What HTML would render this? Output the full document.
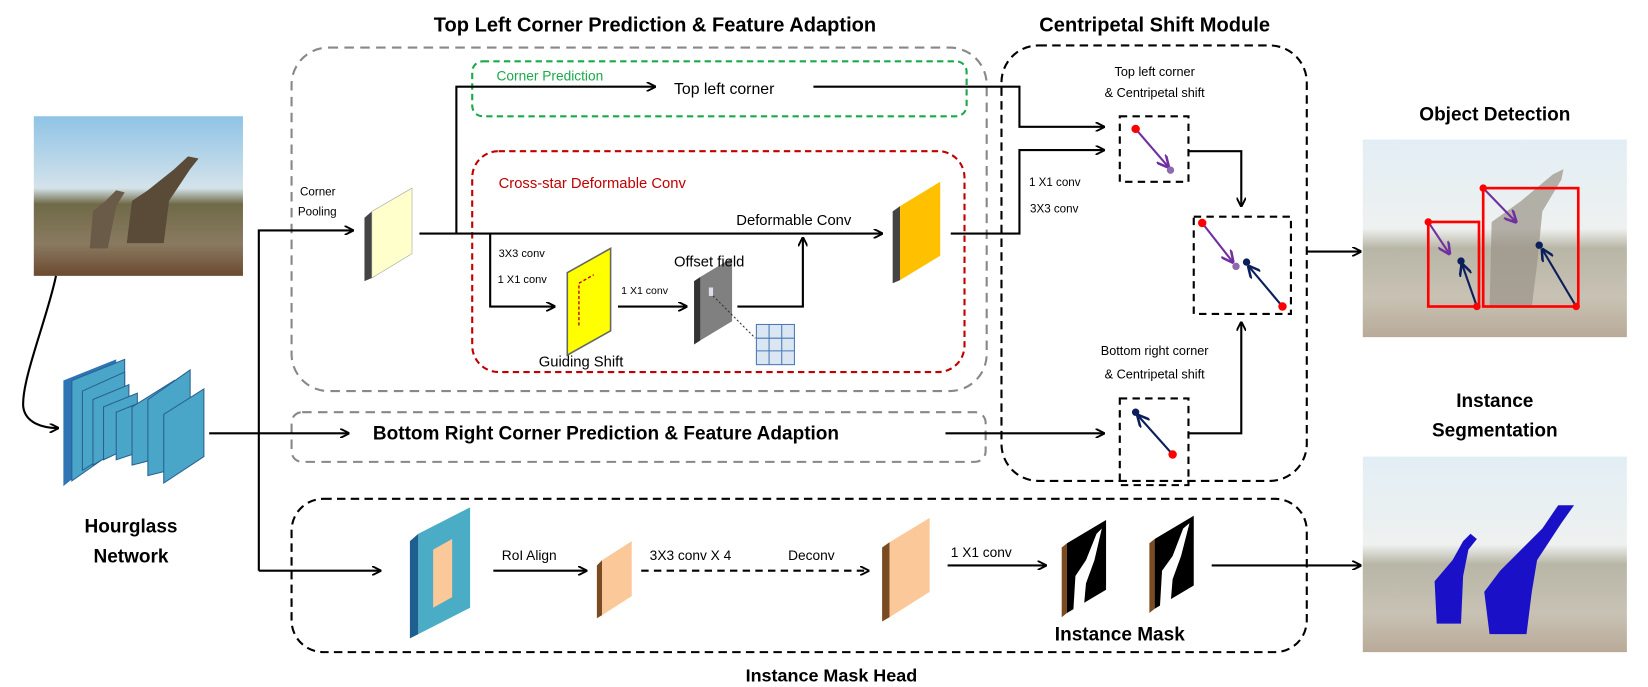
<!DOCTYPE html>
<html><head><meta charset="utf-8"><style>
html,body{margin:0;padding:0;background:#fff;}
svg{display:block;font-family:"Liberation Sans",sans-serif;}
.b{font-weight:bold;}
</style></head><body>
<svg width="1648" height="687" viewBox="0 0 1560 650" preserveAspectRatio="none" xmlns="http://www.w3.org/2000/svg">
<defs>
<marker id="a" viewBox="0 0 10 10" refX="9" refY="5" markerWidth="9" markerHeight="9" orient="auto-start-reverse" markerUnits="userSpaceOnUse"><path d="M0,0 L10,5 L0,10" fill="none" stroke="#000" stroke-width="2"/></marker>
<marker id="ap" viewBox="0 0 10 10" refX="9" refY="5" markerWidth="12" markerHeight="12" orient="auto" markerUnits="userSpaceOnUse"><path d="M0,0 L10,5 L0,10" fill="none" stroke="#7030a0" stroke-width="2"/></marker>
<marker id="an" viewBox="0 0 10 10" refX="9" refY="5" markerWidth="12" markerHeight="12" orient="auto" markerUnits="userSpaceOnUse"><path d="M0,0 L10,5 L0,10" fill="none" stroke="#0b1f5c" stroke-width="2"/></marker>
<linearGradient id="sky" x1="0" y1="0" x2="0" y2="1"><stop offset="0" stop-color="#8fc3e6"/><stop offset="0.45" stop-color="#d4e3ea"/><stop offset="0.55" stop-color="#6f6a48"/><stop offset="0.8" stop-color="#8a7a60"/><stop offset="1" stop-color="#6b4a30"/></linearGradient>
<linearGradient id="sky2" x1="0" y1="0" x2="0" y2="1"><stop offset="0" stop-color="#e2eef5"/><stop offset="0.45" stop-color="#eef1f0"/><stop offset="0.55" stop-color="#b8b6a6"/><stop offset="0.8" stop-color="#c8c2b4"/><stop offset="1" stop-color="#b9aa98"/></linearGradient>
</defs>

<text x="620" y="30" font-size="19" class="b" text-anchor="middle">Top Left Corner Prediction &amp; Feature Adaption</text>
<text x="1093" y="30" font-size="19" class="b" text-anchor="middle">Centripetal Shift Module</text>

<rect x="276" y="45" width="658" height="325" rx="35" fill="none" stroke="#888" stroke-width="2" stroke-dasharray="9,6"/>
<rect x="447" y="58" width="468" height="52" rx="10" fill="none" stroke="#1aaa4a" stroke-width="2" stroke-dasharray="6,4"/>
<text x="470" y="76" font-size="13" fill="#1aaa4a">Corner Prediction</text>
<rect x="447" y="143" width="466" height="209" rx="25" fill="none" stroke="#c00000" stroke-width="2" stroke-dasharray="6,4"/>
<text x="472" y="178" font-size="14" fill="#c00000">Cross-star Deformable Conv</text>

<text x="284" y="185" font-size="11">Corner</text>
<text x="282" y="204" font-size="11">Pooling</text>
<polyline points="245,540 245,218 334,218" fill="none" stroke="#000" stroke-width="2" marker-end="url(#a)"/>
<polygon points="345,206 352,200 352,263 345,266" fill="#444"/>
<polygon points="352,200 390,178 390,240 352,263" fill="#ffffcc" stroke="#999" stroke-width="0.5"/>

<line x1="397" y1="221" x2="835" y2="221" stroke="#000" stroke-width="2" marker-end="url(#a)"/>
<polyline points="432,221 432,82 620,82" fill="none" stroke="#000" stroke-width="2" marker-end="url(#a)"/>
<text x="638" y="89" font-size="15">Top left corner</text>
<polyline points="770,82 965,82 965,120 1045,120" fill="none" stroke="#000" stroke-width="2" marker-end="url(#a)"/>
<text x="697" y="213" font-size="14">Deformable Conv</text>
<polygon points="845,200 852,195 852,265 845,268" fill="#444"/>
<polygon points="852,195 890,172 890,242 852,265" fill="#ffc000"/>
<polyline points="900,221 965,221 965,142 1045,142" fill="none" stroke="#000" stroke-width="2" marker-end="url(#a)"/>
<text x="974" y="176" font-size="11">1 X1 conv</text>
<text x="975" y="201" font-size="11">3X3 conv</text>

<polyline points="464,221 464,290 525,290" fill="none" stroke="#000" stroke-width="2" marker-end="url(#a)"/>
<text x="472" y="243" font-size="10.5">3X3 conv</text>
<text x="471" y="268" font-size="10.5">1 X1 conv</text>
<polygon points="537,258 578,235 578,313 537,336" fill="#ffff00" stroke="#666" stroke-width="1.5"/>
<polyline points="548,308 548,268 562,260" fill="none" stroke="#c00000" stroke-width="1.3" stroke-dasharray="3,2"/>
<text x="510" y="347" font-size="14">Guiding Shift</text>
<line x1="585" y1="290" x2="650" y2="290" stroke="#000" stroke-width="2" marker-end="url(#a)"/>
<text x="588" y="278" font-size="10">1 X1 conv</text>
<polygon points="657,266 663,262 663,322 657,326" fill="#333"/>
<polygon points="663,262 693,244 693,304 663,322" fill="#808080"/>
<rect x="671" y="272" width="4" height="8" fill="#dde"/>
<text x="638" y="252" font-size="14">Offset field</text>
<polyline points="698,290 760,290 760,225" fill="none" stroke="#000" stroke-width="2" marker-end="url(#a)"/>
<line x1="675" y1="280" x2="715" y2="320" stroke="#333" stroke-width="1" stroke-dasharray="2,2"/>
<g stroke="#4a78b8" stroke-width="1" fill="#dbe6f3"><rect x="716" y="307" width="36" height="38"/><line x1="728" y1="307" x2="728" y2="345"/><line x1="740" y1="307" x2="740" y2="345"/><line x1="716" y1="320" x2="752" y2="320"/><line x1="716" y1="332" x2="752" y2="332"/></g>

<rect x="276" y="390" width="657" height="47" rx="10" fill="none" stroke="#888" stroke-width="2" stroke-dasharray="9,6"/>
<text x="353" y="416" font-size="18" class="b">Bottom Right  Corner Prediction &amp; Feature Adaption</text>
<line x1="198" y1="410" x2="330" y2="410" stroke="#000" stroke-width="2" marker-end="url(#a)"/>
<line x1="895" y1="410" x2="1045" y2="410" stroke="#000" stroke-width="2" marker-end="url(#a)"/>

<rect x="948" y="43" width="289" height="412" rx="35" fill="none" stroke="#000" stroke-width="2" stroke-dasharray="8,5"/>
<text x="1093" y="72" font-size="12" text-anchor="middle">Top left corner</text>
<text x="1093" y="92" font-size="12" text-anchor="middle">&amp; Centripetal shift</text>
<rect x="1060" y="110" width="65" height="62" fill="none" stroke="#000" stroke-width="2" stroke-dasharray="7,5"/>
<line x1="1075" y1="122" x2="1106" y2="158" stroke="#7030a0" stroke-width="2" marker-end="url(#ap)"/>
<circle cx="1075" cy="122" r="4" fill="#f00"/><circle cx="1108" cy="161" r="3.5" fill="#8e6bb0"/>
<polyline points="1125,143 1175,143 1175,195" fill="none" stroke="#000" stroke-width="2" marker-end="url(#a)"/>
<rect x="1130" y="205" width="92" height="92" fill="none" stroke="#000" stroke-width="2" stroke-dasharray="7,5"/>
<line x1="1138" y1="211" x2="1167" y2="248" stroke="#7030a0" stroke-width="2" marker-end="url(#ap)"/>
<circle cx="1138" cy="211" r="4" fill="#f00"/><circle cx="1170" cy="252" r="3.5" fill="#8e6bb0"/>
<line x1="1214" y1="290" x2="1182" y2="252" stroke="#0b1f5c" stroke-width="2" marker-end="url(#an)"/>
<circle cx="1214" cy="290" r="4" fill="#f00"/><circle cx="1180" cy="248" r="3.5" fill="#0b1f5c"/>
<text x="1093" y="336" font-size="12" text-anchor="middle">Bottom right corner</text>
<text x="1093" y="358" font-size="12" text-anchor="middle">&amp; Centripetal shift</text>
<rect x="1060" y="377" width="65" height="82" fill="none" stroke="#000" stroke-width="2" stroke-dasharray="7,5"/>
<line x1="1110" y1="430" x2="1077" y2="393" stroke="#0b1f5c" stroke-width="2" marker-end="url(#an)"/>
<circle cx="1110" cy="430" r="4" fill="#f00"/><circle cx="1075" cy="390" r="3.5" fill="#0b1f5c"/>
<polyline points="1125,410 1175,410 1175,305" fill="none" stroke="#000" stroke-width="2" marker-end="url(#a)"/>
<line x1="1237" y1="238" x2="1288" y2="238" stroke="#000" stroke-width="2" marker-end="url(#a)"/>

<text x="1415" y="114" font-size="18" class="b" text-anchor="middle">Object Detection</text>
<rect x="1290" y="132" width="250" height="187" fill="url(#sky2)"/>
<path d="M1410,290 L1412,210 L1440,190 L1470,165 L1480,160 L1478,170 L1460,200 L1455,250 L1450,290 Z" fill="#9a9388" opacity="0.7"/>
<rect x="1352" y="210" width="48" height="80" fill="none" stroke="#f00" stroke-width="2.5"/>
<rect x="1404" y="178" width="90" height="112" fill="none" stroke="#f00" stroke-width="2.5"/>
<line x1="1352" y1="210" x2="1372" y2="240" stroke="#7030a0" stroke-width="2" marker-end="url(#ap)"/>
<line x1="1404" y1="178" x2="1435" y2="210" stroke="#7030a0" stroke-width="2" marker-end="url(#ap)"/>
<line x1="1398" y1="290" x2="1384" y2="250" stroke="#0b1f5c" stroke-width="2" marker-end="url(#an)"/>
<line x1="1492" y1="290" x2="1460" y2="236" stroke="#0b1f5c" stroke-width="2" marker-end="url(#an)"/>
<circle cx="1352" cy="210" r="3.5" fill="#f00"/><circle cx="1404" cy="178" r="3.5" fill="#f00"/><circle cx="1398" cy="290" r="3.5" fill="#f00"/><circle cx="1492" cy="290" r="3.5" fill="#f00"/>
<circle cx="1383" cy="247" r="3.5" fill="#0b1f5c"/><circle cx="1457" cy="232" r="3.5" fill="#0b1f5c"/>
<text x="1415" y="385" font-size="18" class="b" text-anchor="middle">Instance</text>
<text x="1415" y="413" font-size="18" class="b" text-anchor="middle">Segmentation</text>
<rect x="1290" y="432" width="250" height="185" fill="url(#sky2)"/>
<path d="M1360,590 L1358,550 L1375,530 L1385,512 L1392,505 L1398,510 L1390,520 L1385,545 L1383,590 Z" fill="#1a10c8"/>
<path d="M1410,600 L1405,560 L1420,540 L1460,500 L1475,478 L1490,478 L1478,495 L1455,530 L1450,560 L1445,600 Z" fill="#1a10c8"/>

<rect x="32" y="110" width="198" height="151" fill="url(#sky)"/>
<path d="M120,230 L125,190 L140,180 L165,160 L178,148 L188,150 L180,160 L160,190 L155,230 Z" fill="#5a4a38"/>
<path d="M85,235 L88,200 L100,190 L110,180 L118,182 L110,195 L102,235 Z" fill="#6a5a48"/>
<path d="M53,261 C45,300 20,360 22,385 C24,400 40,405 55,405" fill="none" stroke="#000" stroke-width="2" marker-end="url(#a)"/>
<g>
<polygon points="60,360 110,340 110,420 60,460" fill="#2e75b6"/>
<polygon points="68,360 118,340 118,420 68,455" fill="#4aa6c9" stroke="#2a6090" stroke-width="1"/>
<polygon points="78,370 118,352 118,420 78,445" fill="#4aa6c9" stroke="#2a6090" stroke-width="1"/>
<polygon points="88,378 122,364 122,420 88,440" fill="#4aa6c9" stroke="#2a6090" stroke-width="1"/>
<polygon points="98,385 130,372 130,420 98,435" fill="#4aa6c9" stroke="#2a6090" stroke-width="1"/>
<polygon points="110,390 140,378 140,425 110,435" fill="#4aa6c9" stroke="#2a6090" stroke-width="1"/>
<polygon points="125,385 165,360 165,430 125,440" fill="#4aa6c9" stroke="#2a6090" stroke-width="1"/>
<polygon points="140,378 180,350 180,440 140,450" fill="#4aa6c9" stroke="#2a6090" stroke-width="1"/>
<polygon points="155,392 193,368 193,432 155,457" fill="#4aa6c9" stroke="#2a6090" stroke-width="1"/>
</g>
<text x="124" y="504" font-size="18" class="b" text-anchor="middle">Hourglass</text>
<text x="124" y="532" font-size="18" class="b" text-anchor="middle">Network</text>

<rect x="276" y="472" width="961" height="145" rx="30" fill="none" stroke="#000" stroke-width="2" stroke-dasharray="8,5"/>
<text x="787" y="645" font-size="17" class="b" text-anchor="middle">Instance Mask Head</text>
<line x1="245" y1="540" x2="360" y2="540" stroke="#000" stroke-width="2" marker-end="url(#a)"/>
<polygon points="388,512 396,505 396,600 388,604" fill="#1f5f8f"/>
<polygon points="396,505 445,480 445,575 396,600" fill="#4bacc6"/>
<polygon points="410,520 428,510 428,565 410,575" fill="#fbc89a"/>
<line x1="467" y1="540" x2="555" y2="540" stroke="#000" stroke-width="2" marker-end="url(#a)"/>
<text x="475" y="530" font-size="13">RoI Align</text>
<polygon points="565,535 570,530 570,582 565,585" fill="#7a4a20"/>
<polygon points="570,530 598,512 598,564 570,582" fill="#fbc89a"/>
<line x1="607" y1="540" x2="822" y2="540" stroke="#000" stroke-width="2" stroke-dasharray="7,5" marker-end="url(#a)"/>
<text x="615" y="530" font-size="13">3X3 conv X 4</text>
<text x="746" y="530" font-size="13">Deconv</text>
<polygon points="835,518 842,513 842,584 835,588" fill="#7a4a20"/>
<polygon points="842,513 880,490 880,560 842,584" fill="#fbc89a"/>
<line x1="897" y1="535" x2="990" y2="535" stroke="#000" stroke-width="2" marker-end="url(#a)"/>
<text x="900" y="527" font-size="13">1 X1 conv</text>
<polygon points="1005,518 1010,514 1010,580 1005,584" fill="#7a4a20"/>
<polygon points="1010,514 1047,492 1047,558 1010,580" fill="#000"/>
<path d="M1016,578 L1018,545 L1028,530 L1038,505 L1043,500 L1036,530 L1028,552 L1026,574 Z" fill="#fff"/>
<polygon points="1088,514 1093,510 1093,576 1088,580" fill="#7a4a20"/>
<polygon points="1093,510 1130,488 1130,554 1093,576" fill="#000"/>
<path d="M1098,574 L1100,540 L1110,526 L1120,500 L1126,495 L1118,526 L1110,548 L1108,572 Z" fill="#fff"/>
<text x="1060" y="606" font-size="18" class="b" text-anchor="middle">Instance Mask</text>
<line x1="1147" y1="535" x2="1288" y2="535" stroke="#000" stroke-width="2" marker-end="url(#a)"/>
</svg>
</body></html>
